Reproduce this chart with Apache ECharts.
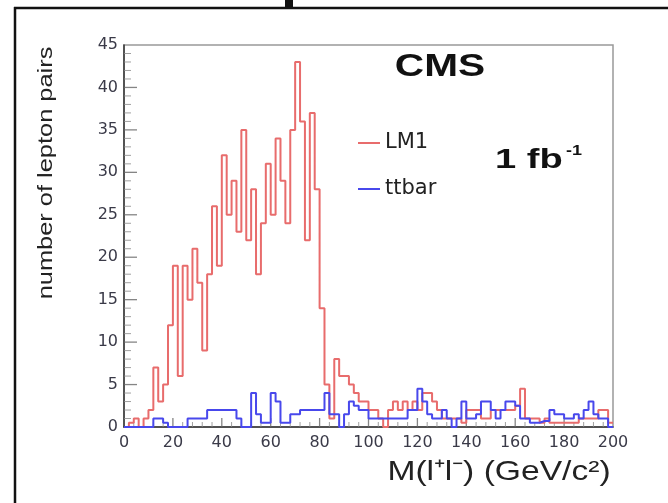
<!DOCTYPE html>
<html><head><meta charset="utf-8">
<script src="https://cdn.jsdelivr.net/npm/echarts@6/dist/echarts.min.js"></script>
<style>html,body{margin:0;padding:0;background:#fff}#c{width:668px;height:503px}</style>
</head><body><div id="c"></div>
<script>
// Bin low edges of M(l+l-) in GeV/c^2 (2 GeV bins)
const binLowEdges = [0,2,4,6,8,10,12,14,16,18,20,22,24,26,28,30,32,34,36,38,
  40,42,44,46,48,50,52,54,56,58,60,62,64,66,68,70,72,74,76,78,
  80,82,84,86,88,90,92,94,96,98,100,102,104,106,108,110,112,114,116,118,
  120,122,124,126,128,130,132,134,136,138,140,142,144,146,148,150,152,154,156,158,
  160,162,164,166,168,170,172,174,176,178,180,182,184,186,188,190,192,194,196,198];
const binUpperEdge = 200;

// LM1 counts per bin
const lm1Counts = [0,0.5,1,0,1,2,7,3,5,12,19,6,19,15,21,17,9,18,26,19,
  32,25,29,23,35,22,28,18,24,31,25,34,29,24,35,43,36,22,37,28,
  14,5,1,8,6,6,5,4,3,3,2,2,1,0,2,3,2,3,2,3,
  2,4,4,3,2,1,1,1,1,0.5,2,2,2,1,1,2,2,2,2,2,
  2.5,4.5,1,1,1,0.5,1,0.5,0.5,0.5,0.5,0.5,0.5,1,1,1,1,2,2,0.5];

// ttbar counts per bin
const ttbarCounts = [0,0,0,0,0,0,1,1,0.5,0,0,0,0,1,1,1,1,2,2,2,
  2,2,2,1,0,0,4,1.5,0.5,0.5,4,3,0.5,0.5,1.5,1.5,2,2,2,2,
  2,4,1.5,1.5,0,1.5,3,2.5,2,2,1,1,1,1,1,1,1,1,2,2,
  4.5,3,1.5,1,1,2,1,0,1,3,1,1,1.5,3,3,2,1,2,3,3,
  2.5,1,1,0.5,0.5,0.7,0.7,2,1.5,1.5,1,1,1.5,1,2,3,1.5,1,1,0];

// Tick positions (ROOT-style inside ticks)
const xMajorTicks = [20,40,60,80,100,120,140,160,180];
const xMinorTicks = [4,8,12,16,24,28,32,36,44,48,52,56,64,68,72,76,84,88,92,96,
  104,108,112,116,124,128,132,136,144,148,152,156,164,168,172,176,184,188,192,196];
const yMajorTicks = [5,10,15,20,25,30,35,40];
const yMinorTicks = [1,2,3,4,6,7,8,9,11,12,13,14,16,17,18,19,21,22,23,24,
  26,27,28,29,31,32,33,34,36,37,38,39,41,42,43,44];

const seriesNames = ['LM1', 'ttbar'];
const seriesColors = ['#e86c6c', '#4848ec'];

function histPoints(counts) {
  const pts = binLowEdges.map((x, i) => [x, counts[i]]);
  pts.push([binUpperEdge, counts[counts.length - 1]]);
  return pts;
}

function tickSeries(points, size, offset, color) {
  return {
    type: 'scatter', data: points, symbol: 'rect', symbolSize: size, symbolOffset: offset,
    itemStyle: {color: color}, silent: true, clip: false, z: 1,
    emphasis: {disabled: true}, tooltip: {show: false}
  };
}

const chart = echarts.init(document.getElementById('c'));
const option = {
  animation: false,
  grid: {left: 124, right: 55, top: 45, bottom: 76, show: true, borderColor: '#999', borderWidth: 1.5, backgroundColor: 'transparent'},
  legend: {
    orient: 'vertical', left: 353, top: 126,
    itemWidth: 22, itemHeight: 2, itemGap: 22, icon: 'rect',
    textStyle: {fontFamily: 'DejaVu Sans', fontSize: 21, color: '#222', lineHeight: 24},
    data: seriesNames
  },
  xAxis: {
    type: 'value', min: 0, max: 200, interval: 20,
    axisLine: {show: true, lineStyle: {color: '#333', width: 1.5}},
    axisTick: {show: false}, minorTick: {show: false},
    axisLabel: {fontFamily: 'DejaVu Sans', fontSize: 16, color: '#3a3a48', margin: 8},
    splitLine: {show: false}
  },
  yAxis: {
    type: 'value', min: 0, max: 45, interval: 5,
    axisLine: {show: true, lineStyle: {color: '#333', width: 1.5}},
    axisTick: {show: false}, minorTick: {show: false},
    axisLabel: {fontFamily: 'DejaVu Sans', fontSize: 16, color: '#3a3a48', margin: 6},
    splitLine: {show: false}
  },
  series: [
    tickSeries(xMajorTicks.map(v => [v, 0]), [1.3, 9], [0, -4.5], '#666'),
    tickSeries(xMinorTicks.map(v => [v, 0]), [1, 5], [0, -2.5], '#888'),
    tickSeries(yMajorTicks.map(v => [0, v]), [13, 1.3], [6.5, 0], '#666'),
    tickSeries(yMinorTicks.map(v => [0, v]), [7, 1], [3.5, 0], '#888'),
    {
      type: 'line', name: seriesNames[0], data: histPoints(lm1Counts), step: 'end',
      symbol: 'none', showSymbol: false, z: 3,
      lineStyle: {color: seriesColors[0], width: 2}, itemStyle: {color: seriesColors[0]}
    }, {
      type: 'line', name: seriesNames[1], data: histPoints(ttbarCounts), step: 'end',
      symbol: 'none', showSymbol: false, z: 3,
      lineStyle: {color: seriesColors[1], width: 2}, itemStyle: {color: seriesColors[1]}
    }
  ],
  graphic: [
    {type: 'line', shape: {x1: 14, y1: 8, x2: 668, y2: 8}, style: {stroke: '#111', lineWidth: 2.5}},
    {type: 'line', shape: {x1: 15, y1: 7, x2: 15, y2: 503}, style: {stroke: '#111', lineWidth: 2.5}},
    {type: 'rect', shape: {x: 285, y: 0, width: 8, height: 8}, style: {fill: '#111'}},
    {type: 'text', x: 46, y: 173, rotation: Math.PI / 2, scaleX: 1.27,
      style: {text: 'number of lepton pairs', fontSize: 20, fontFamily: 'Liberation Sans', fill: '#222',
        textAlign: 'center', textVerticalAlign: 'middle', align: 'center', verticalAlign: 'middle'}},
    {type: 'text', x: 499, y: 472, scaleX: 1.2,
      style: {text: 'M(l\u207Al\u207B) (GeV/c\u00B2)', fontSize: 28, fontFamily: 'Liberation Sans', fill: '#222',
        textAlign: 'center', textVerticalAlign: 'middle', align: 'center', verticalAlign: 'middle'}},
    {type: 'text', x: 440, y: 67, scaleX: 1.27,
      style: {text: 'CMS', fontSize: 32, fontWeight: 'bold', fontFamily: 'Liberation Sans', fill: '#111',
        textAlign: 'center', textVerticalAlign: 'middle', align: 'center', verticalAlign: 'middle'}},
    {type: 'text', x: 495, y: 160, scaleX: 1.36,
      style: {text: '1 fb', fontSize: 28, fontWeight: 'bold', fontFamily: 'Liberation Sans', fill: '#111',
        textAlign: 'left', textVerticalAlign: 'middle', align: 'left', verticalAlign: 'middle'}},
    {type: 'text', x: 566, y: 151, scaleX: 1.2,
      style: {text: '-1', fontSize: 15, fontWeight: 'bold', fontFamily: 'Liberation Sans', fill: '#111',
        textAlign: 'left', textVerticalAlign: 'middle', align: 'left', verticalAlign: 'middle'}}
  ]
};
chart.setOption(option);
</script>
</body></html>
